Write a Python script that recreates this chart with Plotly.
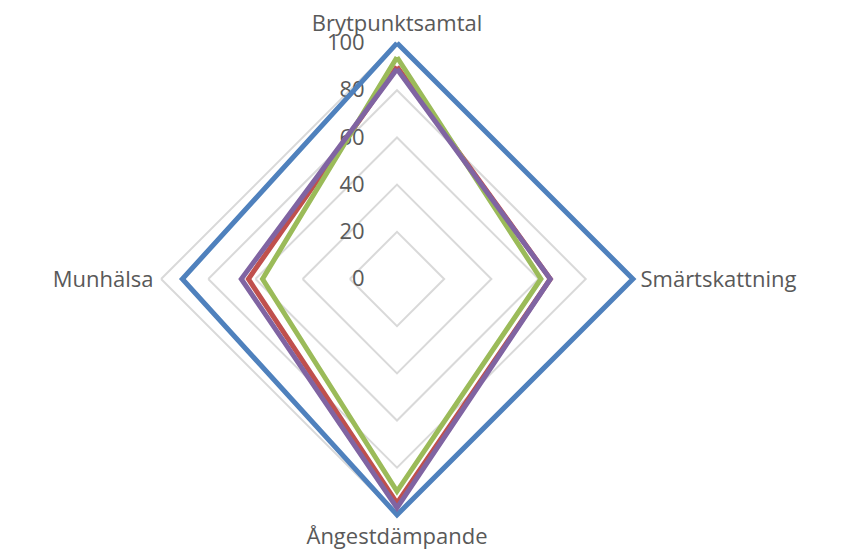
import plotly.graph_objects as go

categories = ["Brytpunktsamtal", "Smärtskattning", "Ångestdämpande", "Munhälsa"]
series_names = ["Serie 1", "Serie 2", "Serie 3", "Serie 4"]
series_values = [
    [100, 100, 100, 91],   # blue
    [90, 65, 95, 63],      # red
    [94, 61, 90, 57],      # green
    [89, 65, 97, 66],      # purple
]
series_colors = ["#4F81BD", "#C0504D", "#9BBB59", "#8064A2"]
radial_ticks = [0, 20, 40, 60, 80, 100]

pad = "\u00a0" * 5

fig = go.Figure()
for name, vals, col in zip(series_names, series_values, series_colors):
    fig.add_trace(go.Scatterpolar(
        r=vals + [vals[0]],
        theta=categories + [categories[0]],
        mode="lines",
        name=name,
        cliponaxis=False,
        line=dict(color=col, width=5),
    ))

fig.update_layout(
    width=850, height=551,
    margin=dict(l=0, r=0, t=0, b=0),
    paper_bgcolor="white",
    showlegend=False,
    font=dict(family="Open Sans", color="#595959"),
    polar=dict(
        bgcolor="white",
        domain=dict(x=[0.1718, 0.7435], y=[0.0672, 0.9492]),
        gridshape="linear",
        radialaxis=dict(
            range=[0, 103],
            tickvals=radial_ticks,
            ticktext=[str(v) + pad for v in radial_ticks],
            angle=90,
            tickangle=90,
            side="counterclockwise",
            showline=False,
            ticks="",
            layer="below traces",
            gridcolor="#D9D9D9",
            gridwidth=2,
            tickfont=dict(size=22, color="#595959"),
        ),
        angularaxis=dict(
            rotation=90,
            direction="clockwise",
            showgrid=False,
            showline=False,
            ticks="",
            layer="below traces",
            tickfont=dict(size=22, color="#595959"),
        ),
    ),
)

fig.write_html("out.html")
